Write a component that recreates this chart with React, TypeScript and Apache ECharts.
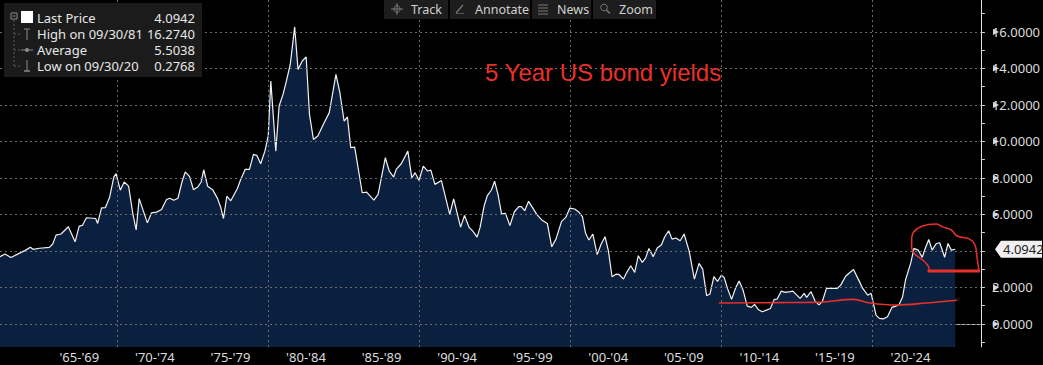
import React, { useEffect, useRef } from "react";
import * as echarts from "echarts";

// Quarter-ish sample dates (decimal years) and 5 Year US yields
const DATES = [
  1962.25, 1962.58, 1962.97, 1963.45, 1963.89, 1964.26, 1964.43, 1964.87, 1965.52, 1965.74,
  1965.96, 1966.29, 1966.77, 1967.22, 1967.49, 1967.7, 1967.97, 1968.58, 1968.71, 1968.97,
  1969.23, 1969.51, 1969.78, 1969.93, 1970.21, 1970.47, 1970.76, 1971.04, 1971.26, 1971.46,
  1972.0, 1972.28, 1972.61, 1972.94, 1973.27, 1973.48, 1973.75, 1974.03, 1974.29, 1974.51,
  1974.79, 1975.05, 1975.34, 1975.56, 1975.73, 1975.99, 1976.32, 1976.65, 1976.86, 1977.04,
  1977.26, 1977.52, 1977.96, 1978.14, 1978.47, 1978.76, 1979.02, 1979.24, 1979.5, 1979.78,
  1980.0, 1980.17, 1980.5, 1980.72, 1980.98, 1981.2, 1981.46, 1981.75, 1981.97, 1982.25,
  1982.51, 1982.73, 1982.99, 1983.28, 1983.65, 1984.04, 1984.48, 1984.74, 1985.02, 1985.24,
  1985.46, 1985.72, 1986.22, 1986.51, 1986.99, 1987.27, 1987.75, 1988.01, 1988.3, 1988.47,
  1988.8, 1989.24, 1989.5, 1989.72, 1989.98, 1990.26, 1990.55, 1990.76, 1991.03, 1991.46,
  1992.01, 1992.27, 1992.73, 1992.99, 1993.28, 1993.54, 1993.82, 1994.02, 1994.29, 1994.5,
  1994.77, 1994.98, 1995.2, 1995.44, 1995.7, 1995.99, 1996.29, 1996.58, 1996.75, 1996.97,
  1997.23, 1997.51, 1997.78, 1998.1, 1998.47, 1998.76, 1999.04, 1999.41, 1999.69, 1999.96,
  2000.28, 2000.57, 2000.79, 2001.0, 2001.22, 2001.48, 2001.77, 2002.03, 2002.29, 2002.51,
  2002.75, 2003.01, 2003.23, 2003.51, 2003.73, 2003.99, 2004.25, 2004.49, 2004.75, 2004.97,
  2005.19, 2005.47, 2005.74, 2006.02, 2006.24, 2006.5, 2006.72, 2006.98, 2007.26, 2007.52,
  2007.85, 2008.2, 2008.51, 2008.75, 2009.01, 2009.23, 2009.49, 2009.73, 2009.99, 2010.17,
  2010.39, 2010.66, 2010.94, 2011.16, 2011.42, 2011.7, 2011.97, 2012.18, 2012.42, 2012.69,
  2012.97, 2013.23, 2013.49, 2013.67, 2013.95, 2014.21, 2014.54, 2014.72, 2014.93, 2015.2,
  2015.46, 2015.63, 2015.92, 2016.18, 2016.44, 2016.66, 2016.94, 2017.27, 2017.66, 2017.88,
  2018.21, 2018.47, 2018.73, 2019.02, 2019.34, 2019.67, 2019.89, 2020.0, 2020.22, 2020.44,
  2020.7, 2020.98, 2021.27, 2021.53, 2021.75, 2021.97, 2022.18, 2022.51, 2022.73, 2023.01,
  2023.28, 2023.45, 2023.71, 2023.93, 2024.21, 2024.43, 2024.59, 2024.76, 2024.98, 2025.2,
  2025.46,
];
const YIELDS = [
  3.69, 3.84, 3.64, 3.84, 4.02, 4.2, 4.09, 4.15, 4.2, 4.38,
  4.87, 4.93, 5.33, 4.5, 5.36, 5.4, 5.82, 5.78, 5.51, 6.36,
  6.38, 6.96, 8.05, 8.24, 7.33, 7.78, 7.55, 6.05, 5.15, 6.87,
  5.54, 6.09, 6.13, 6.27, 6.82, 6.89, 6.78, 6.89, 7.78, 8.33,
  8.09, 7.36, 7.51, 7.78, 8.45, 7.55, 7.36, 6.87, 6.38, 5.78,
  7.0, 6.75, 7.42, 7.83, 8.47, 8.47, 9.29, 9.24, 8.78, 9.47,
  10.3, 13.31, 9.47, 11.94, 12.58, 13.31, 14.23, 16.274, 13.95, 14.41,
  14.63, 11.48, 10.11, 10.3, 10.94, 11.58, 13.68, 12.67, 11.12, 11.34,
  9.66, 9.69, 7.19, 7.22, 6.79, 7.1, 9.11, 8.38, 8.05, 8.47,
  8.78, 9.47, 8.01, 8.29, 7.86, 8.65, 8.38, 8.43, 7.65, 7.86,
  6.0, 6.86, 5.31, 5.95, 5.31, 5.09, 4.76, 5.29, 6.48, 7.03,
  7.34, 7.82, 7.12, 6.03, 6.06, 5.39, 6.15, 6.43, 6.43, 6.21,
  6.72, 6.35, 5.99, 5.7, 5.51, 4.23, 4.65, 5.62, 5.84, 6.35,
  6.3, 6.12, 5.88, 4.97, 4.6, 4.93, 3.8, 4.38, 4.78, 4.01,
  2.59, 2.73, 2.7, 2.46, 2.83, 3.19, 2.83, 3.74, 3.37, 3.61,
  4.14, 3.69, 4.16, 4.34, 4.78, 5.11, 4.65, 4.71, 4.56, 4.93,
  4.01, 2.46, 3.32, 3.01, 1.55, 1.64, 2.59, 2.33, 2.68, 2.55,
  1.95, 1.35, 2.0, 2.35, 1.86, 0.98, 0.91, 1.07, 0.8, 0.67,
  0.76, 0.85, 1.35, 1.36, 1.8, 1.73, 1.77, 1.8, 1.62, 1.4,
  1.68, 1.46, 1.77, 1.27, 1.05, 1.22, 1.95, 1.95, 1.95, 2.13,
  2.62, 2.81, 2.99, 2.5, 1.95, 1.58, 1.68, 1.31, 0.49, 0.31,
  0.2768, 0.4, 0.91, 0.98, 1.07, 1.46, 2.44, 3.32, 4.14, 4.05,
  3.65, 4.08, 4.63, 4.05, 4.41, 4.45, 4.08, 3.65, 4.41, 4.05,
  4.0942,
];

// Bottom axis: period separators and band labels
const SEPARATORS = [1965, 1970, 1975, 1980, 1985, 1990, 1995, 2000, 2005, 2010, 2015, 2020, 2025];
const PERIOD_LABELS = ["'65-'69", "'70-'74", "'75-'79", "'80-'84", "'85-'89", "'90-'94", "'95-'99", "'00-'04", "'05-'09", "'10-'14", "'15-'19", "'20-'24"];
const PERIOD_CENTERS = [1967.5, 1972.5, 1977.5, 1982.5, 1987.5, 1992.5, 1997.5, 2002.5, 2007.5, 2012.5, 2017.5, 2022.5];
const V_GRID = [1970, 1980, 1990, 2000, 2010, 2020];

// Right axis
const Y_GRID = [0, 2, 4, 6, 8, 10, 12, 14, 16];
const Y_LABELS = [0, 2, 6, 8, 10, 12, 14, 16];
const Y_MINOR = [-1, 0, 1, 2, 3, 4, 5, 6, 7, 8, 9, 10, 11, 12, 13, 14, 15, 16, 17];

// Legend stats
const LEGEND_ROWS = [
  { label: "Last Price", value: "4.0942" },
  { label: "High on 09/30/81", value: "16.2740" },
  { label: "Average", value: "5.5038" },
  { label: "Low on 09/30/20", value: "0.2768" },
];
const LAST_PRICE = 4.0942;

// Hand-drawn red annotations (in data coordinates)
const LOOP_MARK = [
  [2027.03, 2.9], [2026.9, 3.67], [2026.77, 4.33], [2026.38, 4.66], [2025.59, 4.82],
  [2025.2, 5.15], [2024.61, 5.32], [2024.22, 5.48], [2023.3, 5.37], [2022.71, 5.04],
  [2022.58, 4.6], [2022.58, 4.16], [2022.78, 3.84], [2023.3, 3.51], [2023.63, 3.23], [2023.76, 2.96],
];
const BASE_MARK = [[2023.63, 2.9], [2027.09, 2.9]];
const LOW_MARK = [
  [2009.82, 1.15], [2013.75, 1.17], [2016.5, 1.2], [2018.72, 1.35], [2019.83, 1.15],
  [2021.6, 1.04], [2023.56, 1.15], [2025.59, 1.3],
];

const FONT = "'Noto Sans', sans-serif";
const RED = "#e8302a";

export default function App() {
  const ref = useRef<HTMLDivElement>(null);
  useEffect(() => {
    if (!ref.current) return;
    const chart = echarts.init(ref.current, null, { renderer: "svg" });
    const main = DATES.map((d, i) => [d, YIELDS[i]]);
    const markLines: any[] = [
      ...Y_GRID.map((v) => ({ yAxis: v })),
      ...V_GRID.map((v) => ({ xAxis: v })),
    ];
    chart.setOption({
      animation: false,
      backgroundColor: "#000",
      grid: { left: 0, right: 51, top: 0, bottom: 18, containLabel: false },
      xAxis: {
        type: "value",
        min: 1962.25,
        max: 2027.16,
        splitLine: { show: false },
        axisLine: { show: true, lineStyle: { color: "#b0b0b0", width: 1 } },
        axisTick: {
          show: true,
          customValues: SEPARATORS,
          length: 18,
          lineStyle: { color: "#8a8a8a", width: 1 },
        },
        axisLabel: {
          show: true,
          customValues: PERIOD_CENTERS,
          margin: 3,
          color: "#dcdcdc",
          fontSize: 13,
          fontFamily: FONT,
          formatter: (v: number) => {
            const i = PERIOD_CENTERS.findIndex((c) => Math.abs(c - v) < 0.01);
            return i >= 0 ? PERIOD_LABELS[i] : "";
          },
        },
      },
      yAxis: {
        type: "value",
        position: "right",
        min: -1.26,
        max: 17.75,
        splitLine: { show: false },
        axisLine: { show: true, lineStyle: { color: "#e0e0e0", width: 1 } },
        axisTick: {
          show: true,
          customValues: Y_MINOR,
          length: 4,
          lineStyle: { color: "#d0d0d0" },
        },
        axisLabel: {
          show: true,
          customValues: Y_LABELS,
          margin: 11,
          color: "#dcdcdc",
          fontSize: 13,
          fontFamily: FONT,
          formatter: (v: number) => v.toFixed(4),
        },
      },
      series: [
        {
          type: "line",
          name: "Last Price",
          data: main,
          showSymbol: false,
          z: 2,
          lineStyle: { color: "#f2f2f2", width: 1.2 },
          areaStyle: { color: "#0b1f3e", opacity: 1, origin: "start" },
          markLine: {
            silent: true,
            symbol: ["none", "none"],
            label: { show: false },
            lineStyle: { color: "#6c6c6c", width: 1, type: [2, 3] },
            data: markLines,
          },
        },
        {
          type: "line",
          data: LOW_MARK,
          showSymbol: false,
          smooth: 0.4,
          clip: false,
          z: 5,
          lineStyle: { color: RED, width: 1.6 },
        },
        {
          type: "line",
          data: LOOP_MARK,
          showSymbol: false,
          smooth: 0.4,
          clip: false,
          z: 5,
          lineStyle: { color: RED, width: 1.5 },
        },
        {
          type: "line",
          data: BASE_MARK,
          showSymbol: false,
          clip: false,
          z: 5,
          lineStyle: { color: RED, width: 3 },
        },
      ],
    });

    const px = (v: number) => chart.convertToPixel({ yAxisIndex: 0 }, v) as number;
    const axisX = 992;
    const tri = Y_LABELS.map((v) => {
      const y = px(v);
      return {
        type: "polygon",
        shape: { points: [[axisX + 1, y - 3], [axisX + 7, y], [axisX + 1, y + 3]] },
        style: { fill: "#d8d8d8" },
        z: 10,
      };
    });
    const ly = px(LAST_PRICE);

    const gray = "#8a8a8a";
    const legendEls: any[] = [
      { type: "rect", shape: { x: 4, y: 3, width: 198, height: 74 }, style: { fill: "#1b1b1b" }, z: 20 },
      { type: "rect", shape: { x: 11, y: 13, width: 6, height: 6 }, style: { fill: "none", stroke: gray, lineWidth: 1 }, z: 21 },
      { type: "line", shape: { x1: 12.5, y1: 16, x2: 15.5, y2: 16 }, style: { stroke: gray, lineWidth: 1 }, z: 21 },
      { type: "rect", shape: { x: 21, y: 11, width: 12, height: 12 }, style: { fill: "#ffffff" }, z: 21 },
      { type: "line", shape: { x1: 14, y1: 20, x2: 14, y2: 66 }, style: { stroke: "#5a5a5a", lineWidth: 1, lineDash: [2, 2] }, z: 21 },
      ...[34, 50, 66].map((y) => ({
        type: "line", shape: { x1: 14, y1: y, x2: 21, y2: y }, style: { stroke: "#5a5a5a", lineWidth: 1, lineDash: [2, 2] }, z: 21,
      })),
      { type: "line", shape: { x1: 27, y1: 29, x2: 27, y2: 40 }, style: { stroke: gray, lineWidth: 1 }, z: 21 },
      { type: "line", shape: { x1: 24, y1: 29, x2: 30, y2: 29 }, style: { stroke: gray, lineWidth: 1 }, z: 21 },
      { type: "line", shape: { x1: 21, y1: 50, x2: 33, y2: 50 }, style: { stroke: gray, lineWidth: 1 }, z: 21 },
      { type: "circle", shape: { cx: 27, cy: 50, r: 2 }, style: { fill: gray }, z: 21 },
      { type: "line", shape: { x1: 27, y1: 60, x2: 27, y2: 71 }, style: { stroke: gray, lineWidth: 1 }, z: 21 },
      { type: "line", shape: { x1: 24, y1: 71, x2: 30, y2: 71 }, style: { stroke: gray, lineWidth: 1.5 }, z: 21 },
      ...LEGEND_ROWS.flatMap((r, i) => [
        {
          type: "text", x: 37, y: 18 + i * 16, z: 22,
          style: { text: r.label, fill: "#e8e8e8", font: `13px ${FONT}`, verticalAlign: "middle", align: "left" },
        },
        {
          type: "text", x: 195, y: 18 + i * 16, z: 22,
          style: { text: r.value, fill: "#e8e8e8", font: `13px ${FONT}`, verticalAlign: "middle", align: "right" },
        },
      ]),
    ];

    const tb = "#1d1d1d";
    const ic = "#7a7a7a";
    const toolbar: any[] = [
      { type: "rect", shape: { x: 384, y: 0, width: 64, height: 19 }, style: { fill: tb }, z: 20 },
      { type: "rect", shape: { x: 450, y: 0, width: 80, height: 19 }, style: { fill: tb }, z: 20 },
      { type: "rect", shape: { x: 532, y: 0, width: 59, height: 19 }, style: { fill: tb }, z: 20 },
      { type: "rect", shape: { x: 593, y: 0, width: 63, height: 19 }, style: { fill: tb }, z: 20 },
      { type: "circle", shape: { cx: 397, cy: 9, r: 3.2 }, style: { fill: "none", stroke: ic, lineWidth: 1 }, z: 21 },
      { type: "line", shape: { x1: 391, y1: 9, x2: 403, y2: 9 }, style: { stroke: ic, lineWidth: 1 }, z: 21 },
      { type: "line", shape: { x1: 397, y1: 3, x2: 397, y2: 15 }, style: { stroke: ic, lineWidth: 1 }, z: 21 },
      { type: "line", shape: { x1: 456, y1: 13, x2: 463, y2: 5 }, style: { stroke: ic, lineWidth: 1.2 }, z: 21 },
      { type: "line", shape: { x1: 456, y1: 13.5, x2: 464, y2: 13.5 }, style: { stroke: "#555", lineWidth: 1 }, z: 21 },
      ...[5, 8, 11, 14].map((y) => ({
        type: "line", shape: { x1: 538, y1: y, x2: 548, y2: y }, style: { stroke: ic, lineWidth: 1 }, z: 21,
      })),
      { type: "circle", shape: { cx: 604, cy: 7.5, r: 3.3 }, style: { fill: "none", stroke: ic, lineWidth: 1 }, z: 21 },
      { type: "line", shape: { x1: 606.5, y1: 10, x2: 610, y2: 13.5 }, style: { stroke: ic, lineWidth: 1.5 }, z: 21 },
      ...[
        { t: "Track", x: 411 },
        { t: "Annotate", x: 475 },
        { t: "News", x: 557 },
        { t: "Zoom", x: 619 },
      ].map((b) => ({
        type: "text", x: b.x, y: 9.5, z: 22,
        style: { text: b.t, fill: "#d0d0d0", font: `12.5px ${FONT}`, verticalAlign: "middle", align: "left" },
      })),
    ];

    chart.setOption({
      graphic: [
        ...tri,
        {
          type: "polygon",
          shape: { points: [[995, ly], [1001, ly - 8.5], [1042, ly - 8.5], [1042, ly + 8.5], [1001, ly + 8.5]] },
          style: { fill: "#f0f0f0" },
          z: 30,
        },
        {
          type: "text", x: 1003, y: ly, z: 31,
          style: { text: LAST_PRICE.toFixed(4), fill: "#222", font: `13px ${FONT}`, verticalAlign: "middle", align: "left" },
        },
        ...legendEls,
        ...toolbar,
        {
          type: "text", x: 485, y: 72, z: 25,
          style: { text: "5 Year US bond yields", fill: RED, font: "24px 'Liberation Sans', Arial, sans-serif", verticalAlign: "middle", align: "left" },
        },
      ],
    });

    return () => chart.dispose();
  }, []);
  return (
    <div
      ref={ref}
      style={{ position: "fixed", left: 0, top: 0, width: 1043, height: 365, background: "#000" }}
    />
  );
}
